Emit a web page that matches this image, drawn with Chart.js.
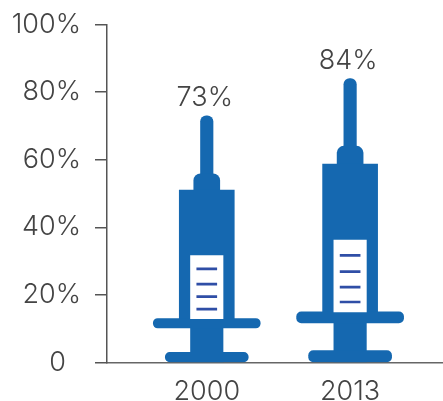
<!DOCTYPE html>
<html><head><meta charset="utf-8">
<style>html,body{margin:0;padding:0;background:#fff}#w{position:relative;width:443px;height:401px}</style>
<script src="https://cdn.jsdelivr.net/npm/chart.js@4"></script></head>
<body><div id="w"><canvas id="c" width="443" height="401"></canvas></div>
<script>
const categories = ['2000', '2013'];
const yTickLabels = ['0\u00a0\u00a0', '20%', '40%', '60%', '80%', '100%'];
const coverage = [73, 84];
const collarTop = [55.8, 64];
const barrelTop = [51, 58.7];
const flangeTop = [13, 15];
const flangeBottom = [10.2, 11.7];
const windowTop = [31.6, 36.2];
const baseTop = [3, 3.5];
const baseBottom = [0.2, 0.2];
const mark1 = [27.7, 31.7];
const mark2 = [23.2, 26.9];
const mark3 = [19.5, 22.3];
const mark4 = [15.8, 17.9];
const BLUE = '#1568b0', NAVY = '#2f4ea6', INK = '#444444';
const range = (lo, hi) => categories.map((_, i) => ({x: i, y: [lo[i], hi[i]]}));
const thin = a => range(a.map(v => v - 0.3), a.map(v => v + 0.3));
const part = (data, w, color, r) => ({data, barThickness: w, backgroundColor: color, borderRadius: r || 0, borderSkipped: false, grouped: false});
const topRound = r => ({topLeft: r, topRight: r, bottomLeft: 0, bottomRight: 0});
const datasets = [
  part(thin(mark1), 20, NAVY), part(thin(mark2), 20, NAVY),
  part(thin(mark3), 20, NAVY), part(thin(mark4), 20, NAVY),
  part(range(flangeTop, windowTop), 32.5, '#ffffff'),
  part(range(baseBottom, baseTop), 83, BLUE, 5),
  part(range(flangeBottom, flangeTop), 107, BLUE, 5),
  part(range(baseBottom, flangeBottom), 32.5, BLUE),
  part(range(flangeTop, barrelTop), 55, BLUE),
  part(range(barrelTop, collarTop), 26, BLUE, topRound(7)),
  part(range(barrelTop, coverage), 12.5, BLUE, topRound(6))
];
const font = {family: 'Inter, sans-serif', size: 27, weight: '300'};
const valueLabels = {
  id: 'valueLabels',
  afterDatasetsDraw(chart) {
    const {ctx, scales} = chart;
    ctx.save();
    ctx.font = '300 27px Inter, sans-serif';
    ctx.fillStyle = INK;
    ctx.textAlign = 'center';
    ctx.textBaseline = 'bottom';
    coverage.forEach((v, i) => ctx.fillText(v + '%', scales.x.getPixelForValue(i) - 2, scales.y.getPixelForValue(v) - 4));
    ctx.restore();
  }
};
new Chart(document.getElementById('c'), {
  type: 'bar',
  data: {labels: categories, datasets},
  plugins: [valueLabels],
  options: {
    responsive: false, animation: false,
    layout: {padding: {top: 24.5}},
    plugins: {legend: {display: false}, tooltip: {enabled: false}},
    scales: {
      x: {
        type: 'linear', min: -0.696, max: 1.648, offset: false,
        afterBuildTicks(a) { a.ticks = categories.map((_, i) => ({value: i})); },
        afterFit(a) { a.height = 38.5; a.paddingLeft = 0; a.paddingRight = 0; },
        grid: {display: false},
        border: {color: '#666', width: 1.5},
        ticks: {color: INK, font, padding: 5, maxRotation: 0, callback: v => categories[v]}
      },
      y: {
        min: 0, max: 100,
        afterFit(a) { a.width = 107; a.paddingTop = 0; a.paddingBottom = 0; },
        grid: {drawOnChartArea: false, drawTicks: true, tickLength: 12, tickColor: '#555', lineWidth: 1.5},
        border: {color: '#555', width: 1.5},
        ticks: {color: INK, font, stepSize: 20, padding: 14, callback: (v) => yTickLabels[v / 20]}
      }
    }
  }
});
</script></body></html>
